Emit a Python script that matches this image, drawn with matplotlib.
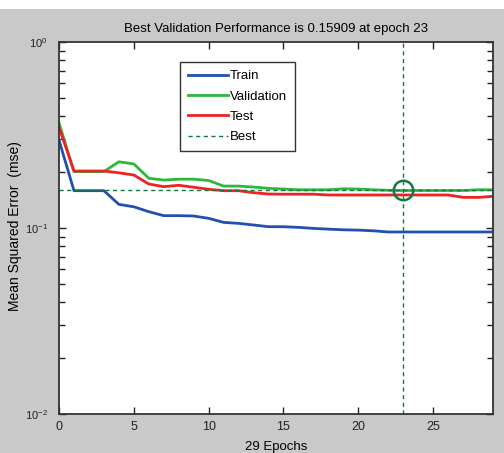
import matplotlib.pyplot as plt
from matplotlib.patches import Rectangle
from matplotlib.ticker import LogLocator, NullFormatter

plt.rcParams["font.family"] = ["Liberation Sans", "DejaVu Sans"]

# Data
epochs = list(range(30))
train = [0.297, 0.1587, 0.1587, 0.1587, 0.134, 0.130, 0.1224, 0.1165, 0.1165, 0.116,
         0.1127, 0.1072, 0.1059, 0.1038, 0.1016, 0.1016, 0.1008, 0.0995, 0.0986, 0.0978,
         0.0974, 0.0966, 0.0952, 0.0952, 0.0952, 0.0952, 0.0952, 0.0952, 0.0952, 0.0952]
validation = [0.368, 0.201, 0.201, 0.201, 0.227, 0.221, 0.185, 0.181, 0.183, 0.183,
              0.180, 0.168, 0.168, 0.166, 0.1634, 0.162, 0.1605, 0.1605, 0.1605, 0.1625,
              0.162, 0.1605, 0.1595, 0.15909, 0.1591, 0.1591, 0.1591, 0.1591, 0.1605, 0.1605]
test = [0.348, 0.2025, 0.2025, 0.2025, 0.198, 0.1927, 0.1724, 0.1668, 0.1697, 0.1656,
        0.1615, 0.1587, 0.1587, 0.1548, 0.1523, 0.152, 0.152, 0.152, 0.1505, 0.1505,
        0.1505, 0.1505, 0.1505, 0.1505, 0.1505, 0.1505, 0.1505, 0.1462, 0.146, 0.148]
best_epoch = 23
best_perf = 0.15909
x_ticks = [0, 5, 10, 15, 20, 25]

bg = "#c8c9c8"
fig = plt.figure(figsize=(5.04, 4.53), dpi=100, facecolor="white")
fig.patches.append(Rectangle((0, 0), 1, 1 - 9 / 453, transform=fig.transFigure,
                             facecolor=bg, edgecolor="none", zorder=-10))

ax = fig.add_axes([59 / 504, 39 / 453, 434 / 504, 372 / 453])
ax.set_facecolor("white")

ax.plot(epochs, train, color="#2150b0", lw=2, label="Train")
ax.plot(epochs, validation, color="#2cb83c", lw=2, label="Validation")
ax.plot(epochs, test, color="#ee2222", lw=2, label="Test")
best_color = "#117a3e"
ax.axhline(best_perf, color=best_color, lw=1, ls=(0, (3, 2.5)), label="Best")
ax.axvline(best_epoch, color=best_color, lw=1, ls=(0, (3, 2.5)))
ax.plot([best_epoch], [best_perf], "o", ms=14, mfc="none", mec=best_color, mew=1.8)

ax.set_yscale("log")
ax.set_xlim(0, 29)
ax.set_ylim(0.01, 1)
ax.set_xticks(x_ticks)
ax.yaxis.set_major_locator(LogLocator(base=10, numticks=5))
ax.yaxis.set_minor_locator(LogLocator(base=10, subs=range(2, 10), numticks=20))
ax.yaxis.set_minor_formatter(NullFormatter())

ax.tick_params(which="both", direction="in", top=True, right=True, labelsize=9,
               colors="#222222")
ax.tick_params(which="major", length=5, width=1)
ax.tick_params(which="minor", length=4, width=1)
ax.tick_params(axis="y", pad=8, labelsize=8)
ax.tick_params(axis="x", pad=5)
for s in ax.spines.values():
    s.set_color("#333333")
    s.set_linewidth(1.3)

ax.set_title("Best Validation Performance is 0.15909 at epoch 23", fontsize=9.5, pad=7)
ax.set_xlabel("29 Epochs", fontsize=9.5, labelpad=5.5)
ax.set_ylabel("Mean Squared Error  (mse)", fontsize=10, va="center")
ax.yaxis.set_label_coords(-44 / 434, 0.505)

leg = ax.legend(loc="upper left", bbox_to_anchor=(121 / 434, 1 - 20 / 372), fontsize=9.5,
                frameon=True, fancybox=False, framealpha=1, edgecolor="#333333",
                handlelength=3.0, handletextpad=0.2, labelspacing=0.62,
                borderpad=0.6, borderaxespad=0)
leg.get_frame().set_linewidth(1)

fig.savefig("out.png", dpi=100, facecolor=fig.get_facecolor())
